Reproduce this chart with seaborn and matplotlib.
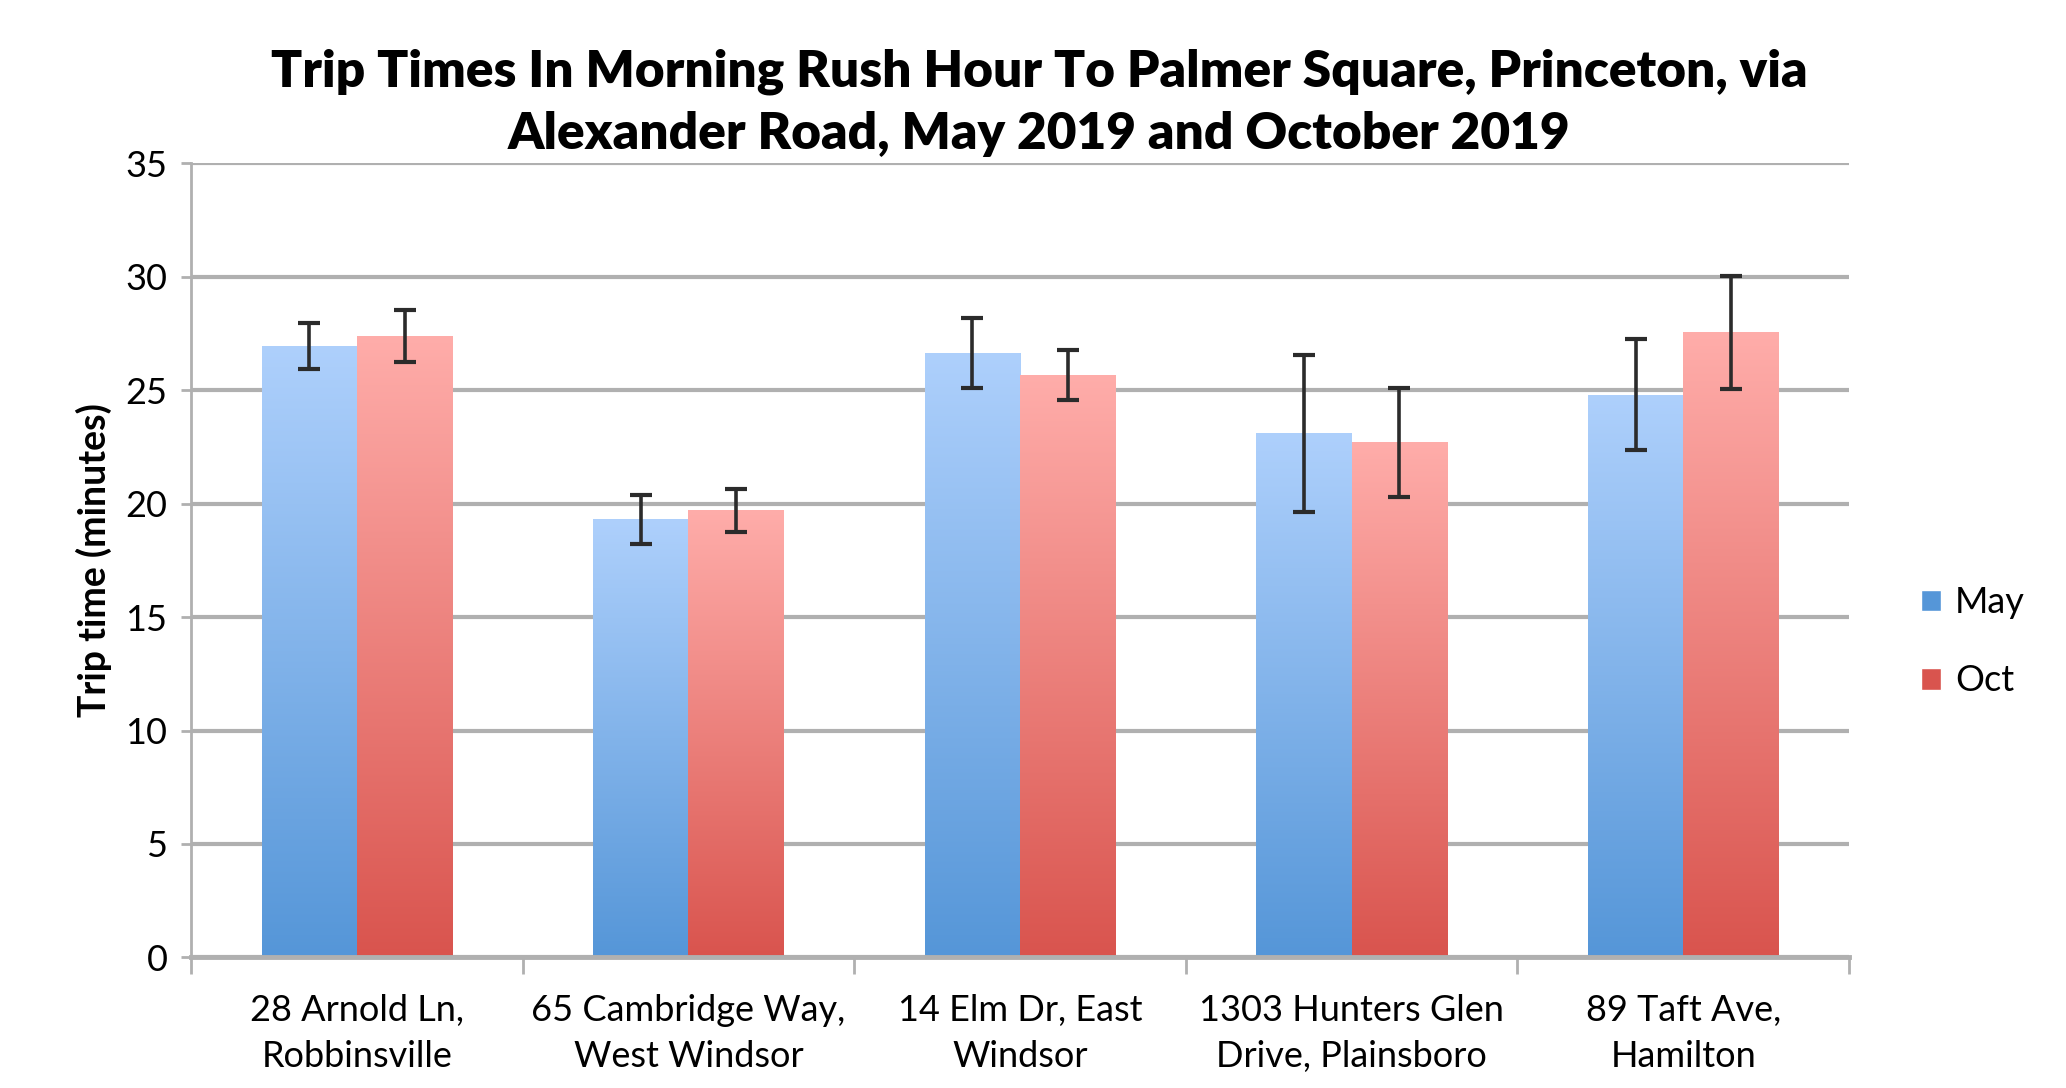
import matplotlib
matplotlib.use('Agg')
import matplotlib.pyplot as plt
import matplotlib.colors as mcolors
from matplotlib.patches import Patch
import numpy as np
import pandas as pd
import seaborn as sns

# values
locations = ["28 Arnold Ln,\nRobbinsville", "65 Cambridge Way,\nWest Windsor",
             "14 Elm Dr, East\nWindsor", "1303 Hunters Glen\nDrive, Plainsboro",
             "89 Taft Ave,\nHamilton"]
months = ["May", "Oct"]
may_mean = [26.95, 19.3, 26.65, 23.1, 24.8]
oct_mean = [27.4, 19.7, 25.65, 22.7, 27.55]
may_err = [1.0, 1.1, 1.55, 3.45, 2.45]
oct_err = [1.15, 0.95, 1.1, 2.4, 2.5]

# gradient colours (top, bottom) per month
grad_colors = {"May": ("#aed0fc", "#5596d8"), "Oct": ("#ffadaa", "#d9544e")}

df = pd.DataFrame({
    "location": locations * 2,
    "month": ["May"] * len(locations) + ["Oct"] * len(locations),
    "minutes": may_mean + oct_mean,
})
errors = {"May": may_err, "Oct": oct_err}

sns.set_style("white")
plt.rcParams['font.family'] = ['Lato', 'DejaVu Sans']
plt.rcParams['text.color'] = 'black'
plt.rcParams['axes.labelcolor'] = 'black'
plt.rcParams['xtick.color'] = 'black'
plt.rcParams['ytick.color'] = 'black'

fig = plt.figure(figsize=(20.66, 10.88), dpi=100)
ax = fig.add_axes([0.0925, 0.12, 0.8025, 0.73])

sns.barplot(data=df, x="location", y="minutes", hue="month", hue_order=months,
            order=locations, width=0.575, gap=0, ax=ax, legend=False,
            edgecolor="none", errorbar=None)

# gradient fill + error bars for each bar
for month, container in zip(months, ax.containers):
    cmap = mcolors.LinearSegmentedColormap.from_list(month, grad_colors[month][::-1])
    grad = np.linspace(1, 0, 256).reshape(-1, 1)
    xs = []
    for bar in container:
        x, w, h = bar.get_x(), bar.get_width(), bar.get_height()
        bar.set_facecolor("none")
        im = ax.imshow(grad, extent=[x, x + w, 0, h], aspect="auto", cmap=cmap,
                       origin="upper", zorder=2, interpolation="bicubic")
        im.set_clip_path(bar)
        xs.append(x + w / 2)
    ax.errorbar(xs, [b.get_height() for b in container], yerr=errors[month],
                fmt="none", ecolor="#2b2b2b", elinewidth=2.6, capsize=8,
                capthick=3, zorder=4)

ax.set_xlim(-0.5, len(locations) - 0.5)
ax.set_ylim(0, 35)
ax.set_yticks(range(0, 36, 5))
ax.yaxis.grid(True, color="#b0b0b0", linewidth=3)
ax.set_axisbelow(True)

for side in ["top", "right"]:
    ax.spines[side].set_visible(False)
ax.spines["left"].set_color("#b0b0b0")
ax.spines["left"].set_linewidth(2)
ax.spines["bottom"].set_color("#b0b0b0")
ax.spines["bottom"].set_linewidth(3.5)

ax.tick_params(axis="y", which="major", length=7, width=2, color="#b0b0b0",
               labelsize=26, pad=10, left=True)
ax.set_xticks(np.arange(len(locations) + 1) - 0.5, minor=True)
ax.tick_params(axis="x", which="minor", length=12, width=2, color="#b0b0b0", bottom=True)
ax.tick_params(axis="x", which="major", length=0, labelsize=26, pad=26)
for lbl in ax.get_xticklabels():
    lbl.set_linespacing(1.5)

ax.set_xlabel("")
ax.set_ylabel("Trip time (minutes)", fontsize=27, fontweight="bold", labelpad=10)

fig.suptitle("Trip Times In Morning Rush Hour To Palmer Square, Princeton, via\n"
             "Alexander Road, May 2019 and October 2019",
             x=0.503, y=0.955, fontsize=37, fontweight="heavy", linespacing=1.4)

handles = [Patch(facecolor=grad_colors[m][1], label=m) for m in months]
fig.legend(handles=handles, loc="center left", bbox_to_anchor=(0.914, 0.41),
           frameon=False, fontsize=26, handlelength=0.55, handleheight=0.55,
           handletextpad=0.4, labelspacing=1.25)

fig.savefig("out.png", dpi=100)
